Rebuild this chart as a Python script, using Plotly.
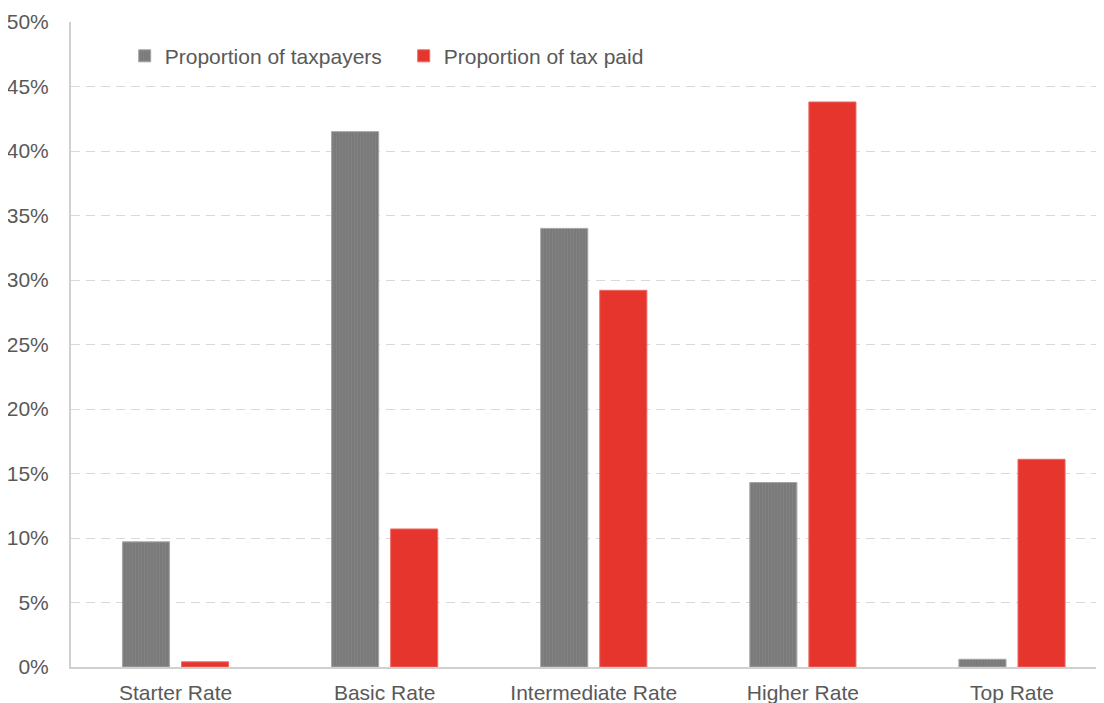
import plotly.graph_objects as go

categories = ["Starter Rate", "Basic Rate", "Intermediate Rate", "Higher Rate", "Top Rate"]
taxpayers = [9.7, 41.5, 34.0, 14.3, 0.6]
tax_paid = [0.4, 10.7, 29.2, 43.8, 16.1]
y_ticks = [0, 5, 10, 15, 20, 25, 30, 35, 40, 45, 50]
y_tick_labels = [f"{v}%" for v in y_ticks]

fig = go.Figure()
fig.add_trace(go.Bar(
    x=categories, y=taxpayers, name="Proportion of taxpayers",
    marker=dict(color="#7f7f7f", line=dict(color="#a5a5a5", width=1),
                pattern=dict(shape="|", fgcolor="#8a8a8a", bgcolor="#7a7a7a", size=3, solidity=0.35)),
))
fig.add_trace(go.Bar(
    x=categories, y=tax_paid, name="Proportion of tax paid",
    marker=dict(color="#e5352c", line=dict(color="#e96a63", width=1)),
))

fig.update_layout(
    width=1096, height=695,
    margin=dict(l=63, r=0, t=14, b=36),
    paper_bgcolor="white", plot_bgcolor="white",
    barmode="group", bargap=0.435, bargroupgap=0.203,
    font=dict(family="Liberation Sans, Arial, sans-serif", size=21, color="#595959"),
    legend=dict(orientation="h", x=0.052, y=0.947, xanchor="left", yanchor="middle",
                font=dict(size=21, color="#595959"), bgcolor="rgba(0,0,0,0)",
                itemwidth=30, traceorder="normal", entrywidth=234, entrywidthmode="pixels"),
    showlegend=True,
)
fig.update_xaxes(
    type="category", range=[-0.5, 4.44],
    showline=True, linecolor="#d0d0d0", linewidth=2,
    ticks="", showgrid=False, tickfont=dict(size=21, color="#595959"),
    ticklabelstandoff=6,
)
fig.update_yaxes(
    range=[0, 50], tickvals=y_ticks, ticktext=y_tick_labels,
    showline=True, linecolor="#d0d0d0", linewidth=2,
    showgrid=True, gridcolor="#d9d9d9", griddash="9px,6px", gridwidth=1.3,
    zeroline=False, ticks="", ticklen=0,
    tickfont=dict(size=21, color="#595959"),
    ticklabelstandoff=16,
)

fig.write_html("out.html")
